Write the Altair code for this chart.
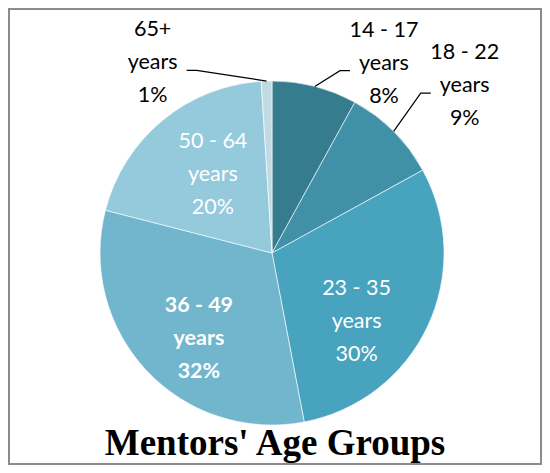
import math
import altair as alt
import pandas as pd

# ---- data -------------------------------------------------------------
groups = ["14 - 17", "18 - 22", "23 - 35", "36 - 49", "50 - 64", "65+"]
percents = [8, 9, 30, 32, 20, 1]
colors = ["#357C8F", "#4091A8", "#47A3BE", "#71B6CD", "#94CADC", "#C2DBE3"]
chart_title = "Mentors' Age Groups"

# ---- layout / style ---------------------------------------------------
CX, CY, R = 263, 244, 172
LINE_H = 33
# per label: (angle offset from slice middle in degrees, radius px, outside, bold)
label_style = {
    "14 - 17": (16.2, 220, True, False),
    "18 - 22": (4.1, 255, True, False),
    "23 - 35": (13.9, 109, False, False),
    "36 - 49": (-6.5, 113, False, True),
    "50 - 64": (2.5, 98, False, False),
    "65+": (-30.4, 224, True, False),
}

total = sum(percents)
rows = []
leader = []
cum = 0
for i, (g, p) in enumerate(zip(groups, percents)):
    mid = (cum + p / 2) / total * 360
    cum += p
    off, r, outside, bold = label_style[g]
    a = math.radians(mid + off)
    lx = CX + r * math.sin(a)
    ly = CY - r * math.cos(a)
    rows.append(dict(idx=i, group=g, percent=p,
                     label=f"{g}\nyears\n{p}%",
                     lx=lx, ly=ly,
                     tcol="#000000" if outside else "#FFFFFF",
                     bold=bold))
    if outside:
        m = math.radians(mid)
        sx = CX + R * math.sin(m)
        sy = CY - R * math.cos(m)
        side = 1 if lx < sx else -1
        ex = lx + side * 34
        ey = ly + 7
        bx = ex + side * 10
        for k, (px, py) in enumerate([(sx, sy), (bx, ey), (ex, ey)]):
            leader.append(dict(group=g, k=k, x=px, y=py))

df = pd.DataFrame(rows)
ldf = pd.DataFrame(leader)

pie = alt.Chart(df).mark_arc(outerRadius=R, stroke="#FFFFFF", strokeWidth=0.6).encode(
    theta=alt.Theta("percent:Q", stack=True),
    order=alt.Order("idx:Q"),
    color=alt.Color("group:N", scale=alt.Scale(domain=groups, range=colors), legend=None),
    x=alt.value(CX),
    y=alt.value(CY),
)

lines = alt.Chart(ldf).mark_line(color="#000000", strokeWidth=1.2).encode(
    x=alt.X("x:Q", scale=None, axis=None),
    y=alt.Y("y:Q", scale=None, axis=None),
    detail="group:N",
    order="k:Q",
)

def labels(bold):
    return alt.Chart(df).transform_filter(
        alt.datum.bold if bold else ~alt.datum.bold
    ).mark_text(
        font="Lato", fontSize=21.5, lineBreak="\n", lineHeight=LINE_H,
        align="center", baseline="middle", dy=-LINE_H,
        fontWeight="bold" if bold else "normal",
    ).encode(
        x=alt.X("lx:Q", scale=None, axis=None),
        y=alt.Y("ly:Q", scale=None, axis=None),
        text="label:N",
        color=alt.Color("tcol:N", scale=None),
    )

title = alt.Chart(pd.DataFrame({"t": [chart_title]})).mark_text(
    font="Liberation Serif", fontSize=37, fontWeight="bold",
    align="center", baseline="alphabetic", color="#000000",
).encode(text="t:N", x=alt.value(266), y=alt.value(446))

chart = alt.layer(pie, lines, labels(False), labels(True), title).properties(
    width=532, height=455, padding=1, autosize=alt.AutoSizeParams(type="none"),
    background="#FFFFFF",
).configure_view(stroke="#8C8C8C", strokeWidth=2)

chart.save("out.html", embed_options={"renderer": "svg", "actions": False})
